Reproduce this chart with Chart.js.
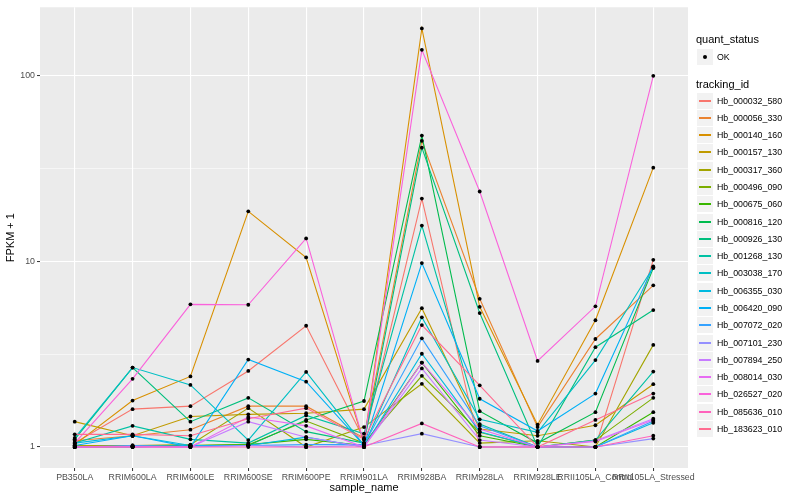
<!DOCTYPE html>
<html>
<head>
<meta charset="utf-8">
<script src="https://cdn.jsdelivr.net/npm/chart.js@4"></script>
<style>
	body { margin: 0; background: #ffffff; font-family: "Liberation Sans", Arial, sans-serif; }
	#wrap { position: relative; width: 800px; height: 500px; }
	#legend { position: absolute; left: 0; top: 0; width: 800px; height: 500px; pointer-events: none; }
	.ttl { position: absolute; font-size: 11px; color: #000; }
	.key { position: absolute; width: 16px; height: 16px; background: #f2f2f2; }
	.lbl { position: absolute; font-size: 8.8px; color: #000; }
</style>
</head>
<body>
<div id="wrap">
	<canvas id="myChart" width="800" height="500"></canvas>
	<div id="legend"></div>
</div>
<script>
const sampleNames	= [ "PB350LA", "RRIM600LA", "RRIM600LE", "RRIM600SE", "RRIM600PE", "RRIM901LA",
	"RRIM928BA", "RRIM928LA", "RRIM928LE", "RRII105LA_Control", "RRII105LA_Stressed" ];

const yMajor	= [ 1, 10, 100 ];
const yMinor	= [ 3.162, 31.62 ];

// FPKM + 1, one value per sample
const hb_000032_580	= [ 1.05, 1.60, 1.66, 2.57, 4.50, 1.10, 21.8, 1.00, 1.00, 1.00, 10.2 ];
const hb_000056_330	= [ 1.08, 1.15, 1.24, 1.66, 1.66, 1.12, 44.6, 6.29, 1.28, 3.82, 7.43 ];
const hb_000140_160	= [ 1.03, 1.78, 2.40, 18.6, 10.5, 1.05, 180, 5.69, 1.32, 4.82, 32.0 ];
const hb_000157_130	= [ 1.37, 1.15, 1.46, 1.50, 1.52, 1.60, 5.60, 1.25, 1.15, 1.31, 2.18 ];
const hb_000317_360	= [ 1.02, 1.02, 1.03, 1.62, 1.00, 1.28, 2.19, 1.05, 1.08, 1.00, 3.55 ];
const hb_000496_090	= [ 1.00, 1.00, 1.02, 1.03, 1.38, 1.05, 2.42, 1.20, 1.00, 1.09, 1.84 ];
const hb_000675_060	= [ 1.00, 1.01, 1.02, 1.03, 1.10, 1.02, 2.85, 1.15, 1.00, 1.00, 1.54 ];
const hb_000816_120	= [ 1.00, 1.00, 1.02, 1.02, 1.40, 1.77, 47.6, 1.56, 1.05, 1.54, 9.2 ];
const hb_000926_130	= [ 1.10, 2.68, 1.37, 1.84, 1.21, 1.05, 41.0, 5.27, 1.00, 3.45, 5.47 ];
const hb_001268_130	= [ 1.05, 1.30, 1.10, 1.05, 1.48, 1.18, 15.6, 1.33, 1.00, 1.09, 2.55 ];
const hb_003038_170	= [ 1.12, 2.68, 2.16, 1.09, 2.54, 1.02, 5.00, 1.41, 1.20, 2.94, 9.3 ];
const hb_006355_030	= [ 1.05, 1.15, 1.02, 1.02, 1.13, 1.00, 3.18, 1.21, 1.00, 1.00, 1.35 ];
const hb_006420_090	= [ 1.02, 1.15, 1.00, 2.96, 2.25, 1.02, 9.80, 1.82, 1.22, 1.94, 9.4 ];
const hb_007072_020	= [ 1.00, 1.02, 1.01, 1.02, 1.03, 1.03, 3.85, 1.30, 1.00, 1.00, 1.38 ];
const hb_007101_230	= [ 1.00, 1.00, 1.00, 1.02, 1.00, 1.02, 1.18, 1.00, 1.00, 1.00, 1.11 ];
const hb_007894_250	= [ 1.00, 1.01, 1.00, 1.37, 1.13, 1.00, 2.65, 1.09, 1.00, 1.08, 1.42 ];
const hb_008014_030	= [ 1.00, 1.00, 1.00, 1.45, 1.30, 1.00, 2.85, 1.25, 1.00, 1.07, 1.40 ];
const hb_026527_020	= [ 1.05, 2.33, 5.87, 5.84, 13.3, 1.05, 138, 23.8, 2.91, 5.73, 100 ];
const hb_085636_010	= [ 1.00, 1.00, 1.00, 1.00, 1.00, 1.00, 1.34, 1.00, 1.00, 1.00, 1.15 ];
const hb_183623_010	= [ 1.17, 1.17, 1.15, 1.42, 1.62, 1.10, 4.54, 2.15, 1.00, 1.40, 1.94 ];

const trackingIds	= [ "Hb_000032_580", "Hb_000056_330", "Hb_000140_160", "Hb_000157_130", "Hb_000317_360",
	"Hb_000496_090", "Hb_000675_060", "Hb_000816_120", "Hb_000926_130", "Hb_001268_130",
	"Hb_003038_170", "Hb_006355_030", "Hb_006420_090", "Hb_007072_020", "Hb_007101_230",
	"Hb_007894_250", "Hb_008014_030", "Hb_026527_020", "Hb_085636_010", "Hb_183623_010" ];

const seriesValues	= [ hb_000032_580, hb_000056_330, hb_000140_160, hb_000157_130, hb_000317_360,
	hb_000496_090, hb_000675_060, hb_000816_120, hb_000926_130, hb_001268_130,
	hb_003038_170, hb_006355_030, hb_006420_090, hb_007072_020, hb_007101_230,
	hb_007894_250, hb_008014_030, hb_026527_020, hb_085636_010, hb_183623_010 ];

const colors	= [ "#F8766D", "#EA8331", "#D89000", "#C09B00", "#A3A500", "#7CAE00", "#39B600", "#00BB4E",
	"#00BF7D", "#00C1A3", "#00BFC4", "#00BAE0", "#00B0F6", "#35A2FF", "#9590FF", "#C77CFF",
	"#E76BF3", "#FA62DB", "#FF62BC", "#FF6C91" ];

Chart.defaults.font.family	= '"Liberation Sans", Arial, sans-serif';

function toPoints( vals ) {
	return vals.map( ( v, i ) => ( { x: i, y: v } ) );
}

let datasets	= [];

// lines, later series on top
seriesValues.forEach( ( vals, i ) => {
	datasets.push( {
		label:			trackingIds[ i ],
		data:			toPoints( vals ),
		borderColor:	colors[ i ],
		borderWidth:	1.1,
		pointRadius:	0,
		showLine:		true,
		order:			40 - i
	} );
} );

// black points drawn over every line
seriesValues.forEach( ( vals, i ) => {
	datasets.push( {
		label:				trackingIds[ i ] + "_pt",
		data:				toPoints( vals ),
		showLine:			false,
		pointRadius:		1.9,
		pointBorderWidth:	0,
		pointBackgroundColor: "#000000",
		order:				0
	} );
} );

const panelBg	= {
	id: "panelBg",
	beforeDraw( chart ) {
		const a		= chart.chartArea;
		const ctx	= chart.ctx;
		ctx.save();
		ctx.fillStyle	= "#EBEBEB";
		ctx.fillRect( a.left, a.top, a.right - a.left, a.bottom - a.top );
		ctx.restore();
	}
};

function isMajor( v ) {
	return yMajor.some( m => Math.abs( m - v ) < 1e-6 );
}

new Chart( document.getElementById( "myChart" ), {
	type: "scatter",
	data: { datasets: datasets },
	plugins: [ panelBg ],
	options: {
		responsive: false,
		animation: false,
		layout: { padding: { left: 0, right: 112, top: 5, bottom: 0 } },
		plugins: { legend: { display: false }, tooltip: { enabled: false } },
		scales: {
			x: {
				type: "linear",
				min: -0.6,
				max: 10.6,
				afterFit( scale ) { scale.height = 32; },
				afterBuildTicks( scale ) {
					scale.ticks = sampleNames.map( ( n, i ) => ( { value: i } ) );
				},
				border: { display: false },
				grid: { color: "#ffffff", lineWidth: 1.1, tickLength: 3, tickColor: "#333333", tickWidth: 1 },
				ticks: {
					autoSkip: false, maxRotation: 0, minRotation: 0, padding: 1,
					color: "#4D4D4D", font: { size: 8.8 },
					callback: v => sampleNames[ v ]
				},
				title: { display: true, text: "sample_name", color: "#000000", font: { size: 11 }, padding: { top: 0, bottom: 5 } }
			},
			y: {
				type: "logarithmic",
				min: Math.pow( 10, -0.113 ),
				max: Math.pow( 10, 2.369 ),
				afterFit( scale ) { scale.width = 40; },
				afterBuildTicks( scale ) {
					scale.ticks = yMajor.concat( yMinor ).sort( ( a, b ) => a - b ).map( v => ( { value: v } ) );
				},
				border: { display: false },
				grid: {
					color: "#ffffff",
					lineWidth: c => isMajor( c.tick.value ) ? 1.1 : 0.55,
					tickLength: 3,
					tickColor: c => isMajor( c.tick.value ) ? "#333333" : "rgba(0,0,0,0)",
					tickWidth: 1
				},
				ticks: {
					color: "#4D4D4D", font: { size: 8.8 }, padding: 2,
					callback: v => isMajor( v ) ? String( v ) : ""
				},
				title: { display: true, text: "FPKM + 1", color: "#000000", font: { size: 11 }, padding: { top: 4, bottom: 0 } }
			}
		}
	}
} );

// ggplot style legend on the right
function buildLegend() {
	const lg	= document.getElementById( "legend" );
	let html	= "";
	html	+= '<div class="ttl" style="left:696px;top:33px">quant_status</div>';
	html	+= '<div class="key" style="left:697px;top:49px"><div style="position:absolute;left:6px;top:6px;width:4px;height:4px;border-radius:2px;background:#000"></div></div>';
	html	+= '<div class="lbl" style="left:717px;top:52px">OK</div>';
	html	+= '<div class="ttl" style="left:696px;top:78px">tracking_id</div>';
	trackingIds.forEach( ( id, i ) => {
		const top	= Math.round( 92.6 + i * 17.28 );
		html	+= '<div class="key" style="left:697px;top:' + top + 'px"><div style="position:absolute;left:2px;top:7px;width:12px;height:2px;background:' + colors[ i ] + '"></div></div>';
		html	+= '<div class="lbl" style="left:717px;top:' + ( top + 3 ) + 'px">' + id + '</div>';
	} );
	lg.innerHTML	= html;
}

buildLegend();
</script>
</body>
</html>
